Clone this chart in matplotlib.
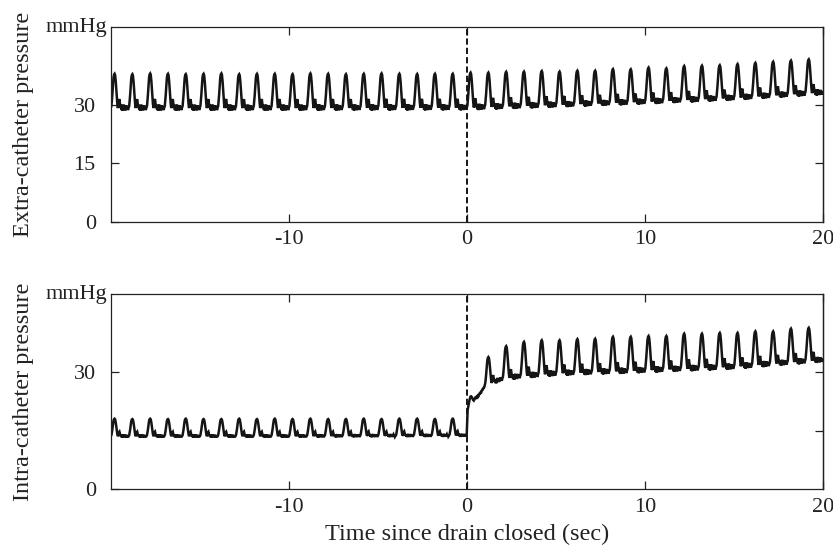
import numpy as np
import matplotlib
matplotlib.use("Agg")
import matplotlib.pyplot as plt
from matplotlib.transforms import blended_transform_factory

plt.rcParams["font.family"] = ["Liberation Serif", "DejaVu Serif"]

# ---------------- data ----------------
# time of each systolic peak (sec, relative to drain closing)
peak_times = [-19.8, -18.8, -17.8, -16.8, -15.8, -14.8, -13.8, -12.8, -11.8, -10.8,
              -9.8, -8.8, -7.8, -6.8, -5.8, -4.8, -3.8, -2.8, -1.8, -0.8,
              0.2, 1.2, 2.2, 3.2, 4.2, 5.2, 6.2, 7.2, 8.2, 9.2,
              10.2, 11.2, 12.2, 13.2, 14.2, 15.2, 16.2, 17.2, 18.2, 19.2]

# extra-catheter pressure: peak of each beat (mmHg)
extra_peaks = [38.0, 37.9, 38.1, 38.0, 37.9, 38.0, 38.1, 37.9, 38.0, 38.0,
               37.9, 38.1, 38.0, 37.9, 38.0, 38.1, 38.0, 37.95, 38.0, 38.0,
               38.3, 38.3, 38.5, 38.55, 38.7, 38.55, 38.8, 38.8, 39.2, 39.15,
               39.6, 39.4, 40.0, 40.1, 40.2, 40.5, 40.8, 41.1, 41.4, 41.7]
# extra-catheter diastolic baseline (time, mmHg)
extra_base_t = [-20.0, -10.0, 0.0, 5.0, 10.0, 15.0, 20.0]
extra_base_v = [29.2, 29.2, 29.3, 30.0, 30.8, 31.8, 33.2]

# intra-catheter pressure: peak of each beat (mmHg)
intra_peaks = [18.1, 18.0, 18.1, 18.0, 18.1, 18.0, 18.0, 18.1, 18.0, 18.1,
               18.0, 18.1, 18.0, 18.0, 18.1, 18.0, 18.1, 18.1, 18.0, 18.1,
               23.8, 33.9, 36.7, 37.8, 38.2, 38.2, 38.5, 38.6, 39.1, 39.1,
               39.3, 39.3, 39.9, 39.9, 40.1, 40.1, 40.5, 40.5, 41.2, 41.4]
# intra-catheter diastolic baseline (time, mmHg)
intra_base_t = [-20.0, -10.0, -0.02, 0.03, 0.2, 0.5, 0.8, 1.0, 1.5, 2.0, 3.0, 5.0, 10.0, 15.0, 20.0]
intra_base_v = [13.6, 13.6, 13.8, 20.0, 22.0, 23.2, 25.0, 26.5, 27.5, 28.3, 29.0, 29.7, 30.5, 31.4, 33.2]

# shape of one beat: offset from peak (sec) and fraction of pulse height
beat_dt = [-0.22, -0.18, -0.14, -0.10, -0.06, -0.03, 0.00, 0.03, 0.06, 0.09,
           0.12, 0.15, 0.18, 0.21, 0.24, 0.27, 0.30, 0.33, 0.36, 0.39,
           0.42, 0.45, 0.48, 0.51, 0.54, 0.57, 0.60, 0.63, 0.66, 0.69,
           0.72, 0.75, 0.78]
beat_frac = [0.0, 0.06, 0.28, 0.62, 0.90, 0.98, 1.0, 0.96, 0.82, 0.58,
             0.34, 0.14, 0.0, 0.06, 0.22, 0.26, 0.12, 0.0, 0.10, -0.06,
             0.07, -0.08, 0.04, 0.10, -0.03, 0.06, -0.07, 0.03, 0.08, -0.04,
             0.05, -0.06, 0.0]

xticks = [-10, 0, 10, 20]
xtick_labels = ["-10", "0", "10", "20"]


def trace(base_t, base_v, peaks):
    t = np.linspace(-20, 20, 8001)
    base_at = lambda x: np.interp(x, base_t, base_v)
    y = base_at(t)
    for pt, pk in zip(peak_times, peaks):
        amp = pk - base_at(pt)
        dt = t - pt
        m = (dt >= beat_dt[0]) & (dt <= beat_dt[-1])
        y[m] += amp * np.interp(dt[m], beat_dt, beat_frac)
    return t, y


fig = plt.figure(figsize=(8.33, 5.49), dpi=100)
ax1 = fig.add_axes([0.1333, 0.5962, 0.8547, 0.3545])
ax2 = fig.add_axes([0.1333, 0.1088, 0.8547, 0.3552])

panels = [
    (ax1, extra_base_t, extra_base_v, extra_peaks, [0, 15, 30], "Extra-catheter pressure"),
    (ax2, intra_base_t, intra_base_v, intra_peaks, [0, 30], "Intra-catheter pressure"),
]

for ax, bt, bv, pk, lticks, ylabel in panels:
    t, y = trace(bt, bv, pk)
    ax.plot(t, y, color="#151515", lw=1.8, solid_joinstyle="miter")
    ax.axvline(0, color="#151515", lw=1.4, ls=(0, (3.2, 1.6)))
    ax.set_xlim(-20, 20)
    ax.set_ylim(0, 50)
    ax.set_xticks(xticks)
    ax.set_xticklabels(xtick_labels)
    ax.set_yticks(lticks)
    ax.tick_params(axis="x", direction="in", top=True, length=6, width=0.9,
                   labelsize=16, pad=6, colors="#222222")
    ax.tick_params(axis="y", direction="in", length=6, width=0.9,
                   labelsize=16, pad=11, colors="#222222")
    sec = ax.secondary_yaxis("right")
    sec.set_yticks([15, 30])
    sec.tick_params(direction="in", length=6, width=0.9, labelright=False, colors="#222222")
    sec.spines["right"].set_linewidth(0.9)
    for s in ax.spines.values():
        s.set_linewidth(0.9)
        s.set_color("#222222")
    ax.set_ylabel(ylabel, fontsize=17.5, color="#222222")
    ax.yaxis.set_label_coords(-0.108, 0.5)
    tr = blended_transform_factory(ax.transAxes, ax.transData)
    ax.text(-0.006, 50, "mmHg", transform=tr, ha="right", va="center",
            fontsize=16, color="#222222")

ax2.set_xlabel("Time since drain closed (sec)", fontsize=17.5, color="#222222", labelpad=5)

fig.savefig("out.png", dpi=100)
